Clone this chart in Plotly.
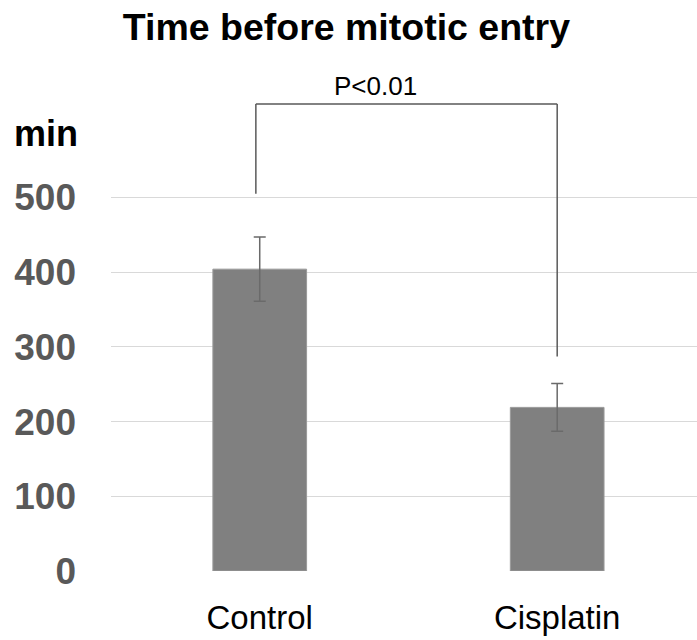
import plotly.graph_objects as go

categories = ["Control", "Cisplatin"]
values = [404, 219]
errors = [43, 32]
y_ticks = [0, 100, 200, 300, 400, 500]
title_text = "Time before mitotic entry"
y_unit = "min"
p_label = "P<0.01"
bracket_y = [505, 625, 287]  # left leg bottom, top, right leg bottom

fig = go.Figure()
fig.add_trace(go.Bar(
    x=categories, y=values, width=0.315,
    marker=dict(color="#808080", line=dict(color="#9a9a9a", width=1)),
    error_y=dict(type="data", array=errors, visible=True,
                 color="#6a6a6a", thickness=1.5, width=6),
))

# significance bracket
fig.add_shape(type="line", x0=-0.013, x1=-0.013, y0=bracket_y[0], y1=bracket_y[1],
              line=dict(color="#595959", width=1.5))
fig.add_shape(type="line", x0=-0.013, x1=1.0, y0=bracket_y[1], y1=bracket_y[1],
              line=dict(color="#595959", width=1.5))
fig.add_shape(type="line", x0=1.0, x1=1.0, y0=bracket_y[1], y1=bracket_y[2],
              line=dict(color="#595959", width=1.5))

fig.add_annotation(x=0.388, y=649, xref="x", yref="y", text=p_label, showarrow=False,
                   font=dict(family="Liberation Sans, Arial", size=26, color="#000000"),
                   xanchor="center", yanchor="middle")
fig.add_annotation(x=-0.111, y=585, xref="paper", yref="y", text="<b>" + y_unit + "</b>",
                   showarrow=False,
                   font=dict(family="Liberation Sans, Arial", size=36, color="#000000"),
                   xanchor="center", yanchor="middle")

fig.update_layout(
    width=697, height=640,
    margin=dict(l=111, r=0, t=48, b=69),
    paper_bgcolor="white", plot_bgcolor="white",
    showlegend=False,
    title=dict(text="<b>" + title_text + "</b>", x=0.497, xanchor="center",
               y=1 - 27 / 640, yanchor="middle", yref="container",
               font=dict(family="Liberation Sans, Arial", size=37.5, color="#000000")),
    xaxis=dict(range=[-0.5, 1.47], showgrid=False, zeroline=False, showline=False,
               ticks="", ticklabelstandoff=24,
               tickfont=dict(family="Liberation Sans, Arial", size=33, color="#000000")),
    yaxis=dict(range=[0, 700], tickvals=y_ticks, showgrid=True, gridcolor="#d9d9d9",
               gridwidth=1.3, zeroline=False, showline=False, ticks="",
               ticklabelstandoff=34,
               tickfont=dict(family="Liberation Sans, Arial", size=37, color="#595959",
                             weight="bold")),
)

fig.write_html("out.html")
